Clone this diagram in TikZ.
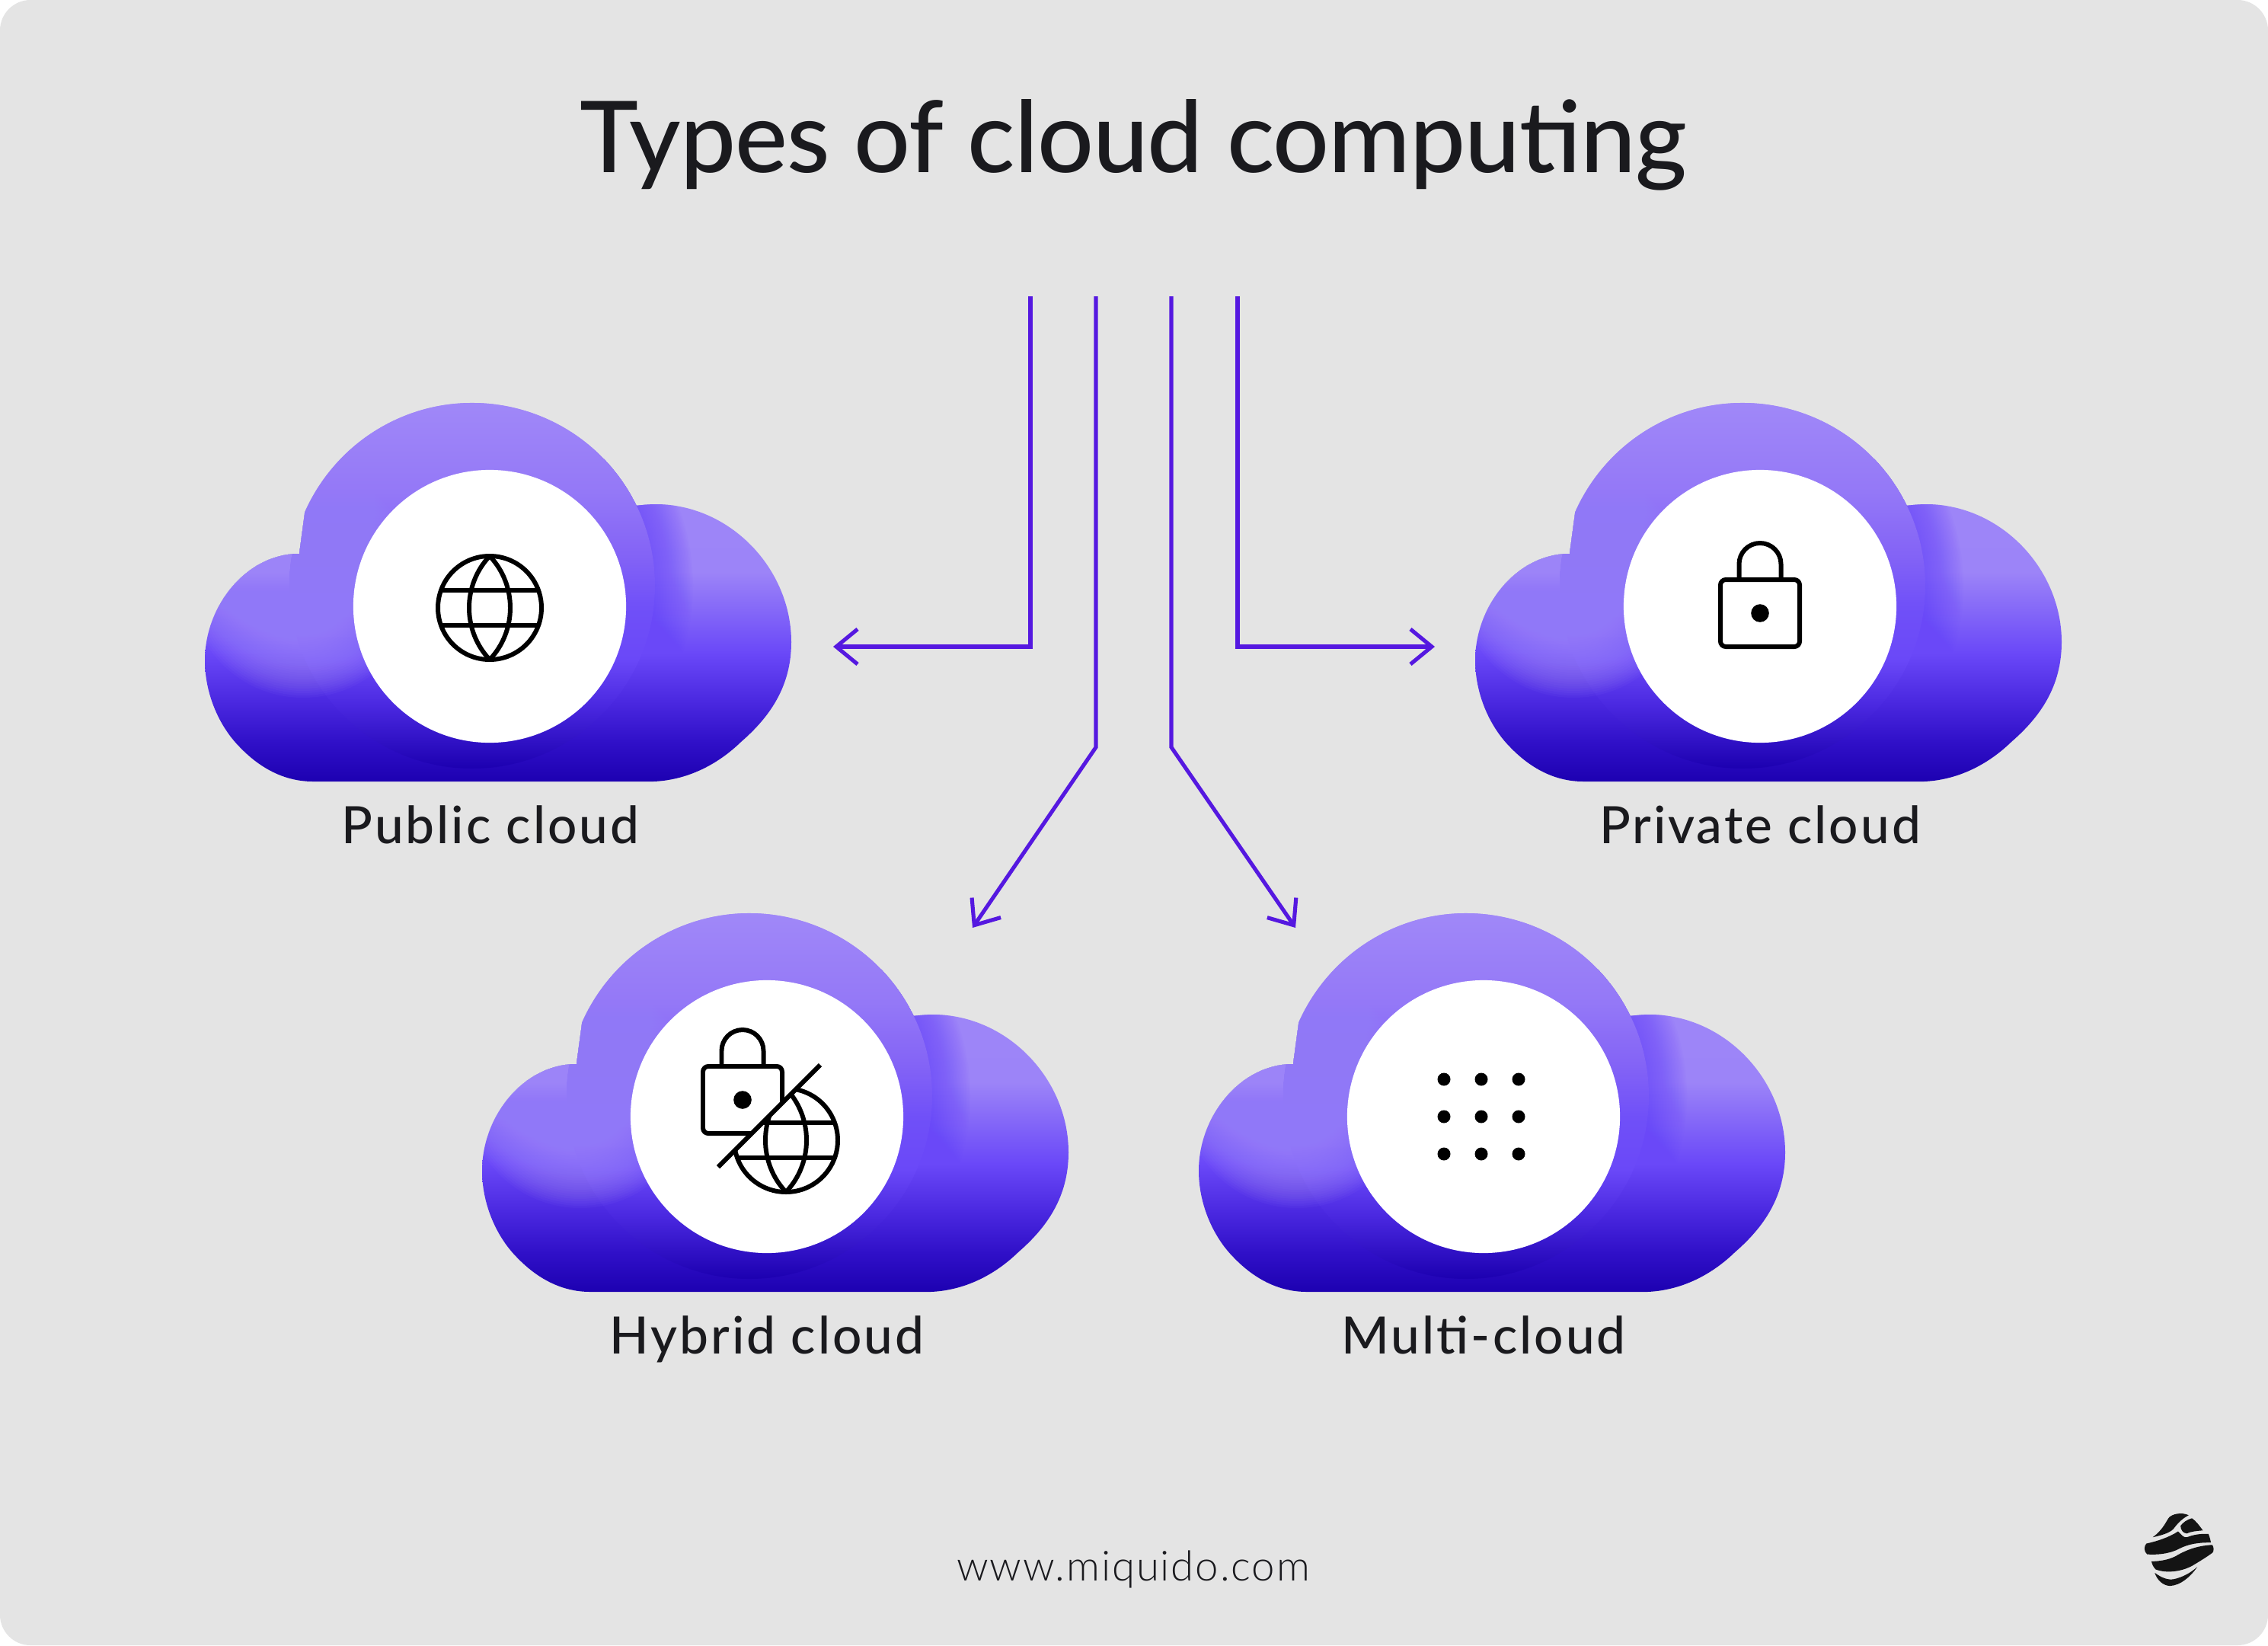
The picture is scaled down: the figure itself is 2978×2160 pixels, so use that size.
\documentclass[tikz,border=0pt]{standalone}
\usepackage{fontspec}
\setmainfont{Lato}
\newfontfamily\titlefont[LetterSpace=-0.8]{Lato Medium}
\newfontfamily\labelfont[LetterSpace=4.5]{Lato Medium}
\newfontfamily\urlfont[LetterSpace=3.4]{Lato Light}
\usetikzlibrary{arrows.meta}
\definecolor{bgc}{HTML}{E4E4E4}
\definecolor{arrowc}{HTML}{5518E0}
\definecolor{inkc}{HTML}{1A1A1E}
\definecolor{clda}{HTML}{1C00B0}
\definecolor{cldb}{HTML}{3010C8}
\definecolor{cldc}{HTML}{4A28E0}
\definecolor{cldd}{HTML}{6A48F8}
\definecolor{clde}{HTML}{9C84F8}
\definecolor{cldf}{HTML}{A088F8}
\definecolor{cldg}{HTML}{7050F8}
\definecolor{cldh}{HTML}{8464F6}
\definecolor{cldi}{HTML}{9478F7}
\pgfdeclareverticalshading{cloudbase}{100bp}{color(0bp)=(clda);color(25bp)=(clda);color(30bp)=(cldb);color(35bp)=(cldc);color(41bp)=(cldd);color(51bp)=(clde);color(75bp)=(cldf);color(100bp)=(cldf)}
\pgfdeclareverticalshading{cloudbig}{100bp}{color(0bp)=(clda);color(25bp)=(clda);color(33.6bp)=(cldc);color(39.9bp)=(cldd);color(47.2bp)=(cldg);color(54.5bp)=(cldh);color(62.8bp)=(cldi);color(75bp)=(cldf);color(100bp)=(cldf)}
\tikzset{
  px/.style={x=0.01cm,y=-0.01cm},
  flow/.style={draw=arrowc,line width=1.45pt,miter limit=10,-{Straight Barb[length=0.28cm,width=0.46cm,line width=1.45pt]}},
  hole/.style={circle,fill=white,draw=none,minimum size=3.58cm,inner sep=0pt},
  lbl/.style={anchor=base,text=inkc,font=\labelfont\fontsize{19.2}{24}\selectfont,inner sep=0pt},
  icon/.style={draw=black,line width=1.7pt,line join=round},
  blob/.style={fill=cldf,opacity=0.06},
  seam/.style={fill=cldd,opacity=0.04}
}
\newcommand{\cloudoutline}{(-232,230) -- (202,230) .. controls (250,232) and (295,212) .. (330,178) .. controls (368,145) and (396,105) .. (396,47) .. controls (396,-50) and (315,-134) .. (218,-134) .. controls (210,-134) and (200,-133) .. (192.7,-132.2) arc[start angle=-26,end angle=-156.3,radius=240] -- (-250,-69) .. controls (-320,-69) and (-374,0) .. (-374,71) .. controls (-374,115) and (-355,158) .. (-328,185) .. controls (-302,212) and (-270,230) .. (-232,230) -- cycle}
\newcommand{\cloudbody}{%
  \shade[shading=cloudbase] \cloudoutline;
  \begin{scope}
    \clip \cloudoutline;
    \begin{scope}
      \clip (150,-200) rectangle (420,70);
      \foreach \r in {290,288,...,240}{\fill[seam] (-23,-27) circle[radius=\r];}
    \end{scope}
    \shade[shading=cloudbig] (-23,-27) circle[radius=240];
    \foreach \r in {150,147,...,6}{\fill[blob] (-245,-30) circle[radius=\r];}
  \end{scope}
}
\newcommand{\globeicon}{%
  \draw[icon] (0,0) circle[radius=68];
  \draw[icon] (0,-68) .. controls (-36,-30) and (-36,30) .. (0,68) .. controls (36,30) and (36,-30) .. (0,-68);
  \draw[icon] (-64,-23) -- (64,-23) (-64,23) -- (64,23);
}
\newcommand{\padlock}{%
  \draw[icon,rounded corners=2pt] (-52,-44) rectangle (52,44);
  \draw[icon] (-27.5,-44) -- (-27.5,-64.5) arc[start angle=180,end angle=360,radius=27.5] -- (27.5,-44);
  \fill[black] (0,0) circle[radius=11.8];
}
\begin{document}
\begin{tikzpicture}[px]
\useasboundingbox (0,0) rectangle (2978,2160);
\fill[white] (0,0) rectangle (2978,2160);
\fill[bgc,rounded corners=0.4cm] (0,0) rectangle (2978,2160);

\node[anchor=base,text=inkc,inner sep=0pt,font=\titlefont\fontsize{37}{44}\selectfont] (title) at (1488,226) {Types of cloud computing};

% clouds
\begin{scope}[shift={(643,796)}]\cloudbody\end{scope}
\begin{scope}[shift={(2311,796)}]\cloudbody\end{scope}
\begin{scope}[shift={(1007,1466)}]\cloudbody\end{scope}
\begin{scope}[shift={(1948,1466)}]\cloudbody\end{scope}

\node[hole] (pubhole) at (643,796) {};
\node[hole] (privhole) at (2311,796) {};
\node[hole] (hybhole) at (1007,1466) {};
\node[hole] (multihole) at (1948,1466) {};

% icons
\begin{scope}[shift={(643,798)}]\globeicon\end{scope}
\begin{scope}[shift={(2311,805)}]\padlock\end{scope}
\begin{scope}
  \clip (943,1532) -- (1077,1398) -- (1077,1300) -- (850,1300) -- (850,1532) -- cycle;
  \begin{scope}[shift={(975,1444)}]\padlock\end{scope}
\end{scope}
\begin{scope}
  \clip (943,1532) -- (1077,1398) -- (1150,1398) -- (1150,1600) -- (943,1600) -- cycle;
  \begin{scope}[shift={(1032,1497)}]\globeicon\end{scope}
\end{scope}
\draw[icon,line join=miter] (943,1532) -- (1077,1398);
\foreach \dx in {-49,0,49}{\foreach \dy in {-49,0,49}{\fill[black] (1945+\dx,1466+\dy) circle[radius=8.5];}}

% labels
\node[lbl] (publbl) at (644,1107) {Public cloud};
\node[lbl] (privlbl) at (2311,1107) {Private cloud};
\node[lbl] (hyblbl) at (1007,1777) {Hybrid cloud};
\node[lbl] (multilbl) at (1948,1777) {Multi-cloud};
\node[anchor=base,text=inkc,inner sep=0pt,font=\urlfont\fontsize{15.5}{18}\selectfont] (url) at (1488,2075) {www.miquido.com};

% arrows
\coordinate (s1) at (1353,389); \coordinate (b1) at (1353,849); \coordinate (t1) at (1094,849);
\coordinate (s2) at (1439,389); \coordinate (b2) at (1439,981); \coordinate (t2) at (1277,1218);
\coordinate (s3) at (1538,389); \coordinate (b3) at (1538,981); \coordinate (t3) at (1701,1218);
\coordinate (s4) at (1625,389); \coordinate (b4) at (1625,849); \coordinate (t4) at (1884,849);
\draw[flow] (s1) -- (b1) -- (t1);
\draw[flow] (s2) -- (b2) -- (t2);
\draw[flow] (s3) -- (b3) -- (t3);
\draw[flow] (s4) -- (b4) -- (t4);

% logo
\begin{scope}[shift={(2760,1950)},x=0.00333cm,y=-0.00333cm]
\fill[black!92] (200,205) .. controls (235,180) and (250,150) .. (262,130) .. controls (275,112) and (315,105) .. (342,118) .. controls (310,135) and (295,155) .. (282,172) .. controls (265,190) and (230,198) .. (200,205) -- cycle;
\fill[black!92] (355,130) .. controls (370,140) and (385,160) .. (398,178) .. controls (375,180) and (350,182) .. (335,190) .. controls (320,190) and (310,175) .. (310,160) .. controls (318,148) and (335,135) .. (355,130) -- cycle;
\fill[black!92] (175,230) .. controls (220,220) and (265,205) .. (300,182) .. controls (315,195) and (320,207) .. (335,205) .. controls (360,195) and (390,190) .. (420,192) .. controls (425,205) and (428,215) .. (430,226) .. controls (380,225) and (340,232) .. (305,250) .. controls (265,272) and (210,275) .. (178,272) .. controls (165,262) and (165,240) .. (175,230) -- cycle;
\fill[black!92] (195,300) .. controls (225,300) and (260,295) .. (290,280) .. controls (340,250) and (385,238) .. (435,235) .. controls (442,245) and (442,258) .. (436,266) .. controls (410,285) and (385,300) .. (365,312) .. controls (325,338) and (260,350) .. (212,332) .. controls (202,322) and (198,312) .. (195,300) -- cycle;
\fill[black!92] (208,345) .. controls (235,365) and (260,375) .. (285,370) .. controls (320,362) and (350,345) .. (376,322) .. controls (350,360) and (310,395) .. (268,397) .. controls (240,395) and (218,375) .. (208,345) -- cycle;
\end{scope}
\end{tikzpicture}
\end{document}
